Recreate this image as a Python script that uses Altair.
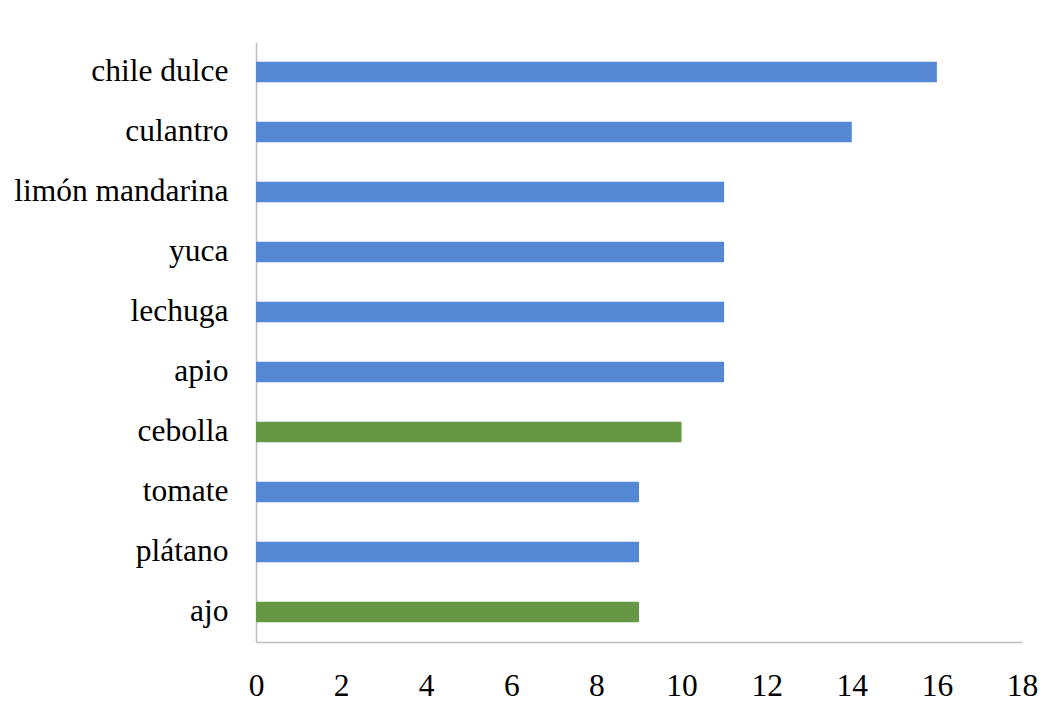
import altair as alt
import pandas as pd

categories = ["chile dulce", "culantro", "limón mandarina", "yuca", "lechuga",
              "apio", "cebolla", "tomate", "plátano", "ajo"]
values = [16, 14, 11, 11, 11, 11, 10, 9, 9, 9]
groups = ["a", "a", "a", "a", "a", "a", "b", "a", "a", "b"]
tick_values = [0, 2, 4, 6, 8, 10, 12, 14, 16, 18]

df = pd.DataFrame({"cat": categories, "val": values, "grp": groups})

font = "Liberation Serif"

chart = alt.Chart(df).mark_bar().encode(
    y=alt.Y("cat:N", sort=categories,
            scale=alt.Scale(paddingInner=0.66, paddingOuter=0.33),
            axis=alt.Axis(title=None, ticks=False, domainColor="#BFBFBF",
                          labelFont=font, labelFontSize=31.5, labelColor="#000000",
                          labelPadding=28, labelLimit=400)),
    x=alt.X("val:Q", scale=alt.Scale(domain=[0, 18], nice=False),
            axis=alt.Axis(title=None, values=tick_values, ticks=False, grid=False,
                          domainColor="#BFBFBF", labelFont=font, labelFontSize=31.5,
                          labelColor="#000000", labelPadding=28, labelFlush=False)),
    color=alt.Color("grp:N", scale=alt.Scale(domain=["a", "b"], range=["#5588D3", "#669744"]),
                    legend=None),
).properties(
    width=766, height=600,
    autosize=alt.AutoSizeParams(type="none"),
    padding={"left": 248, "top": 34, "right": 30, "bottom": 60},
).configure_view(stroke=None).configure_axis(domainWidth=1.5)

chart.save("out.html", embed_options={"renderer": "svg", "actions": False})
